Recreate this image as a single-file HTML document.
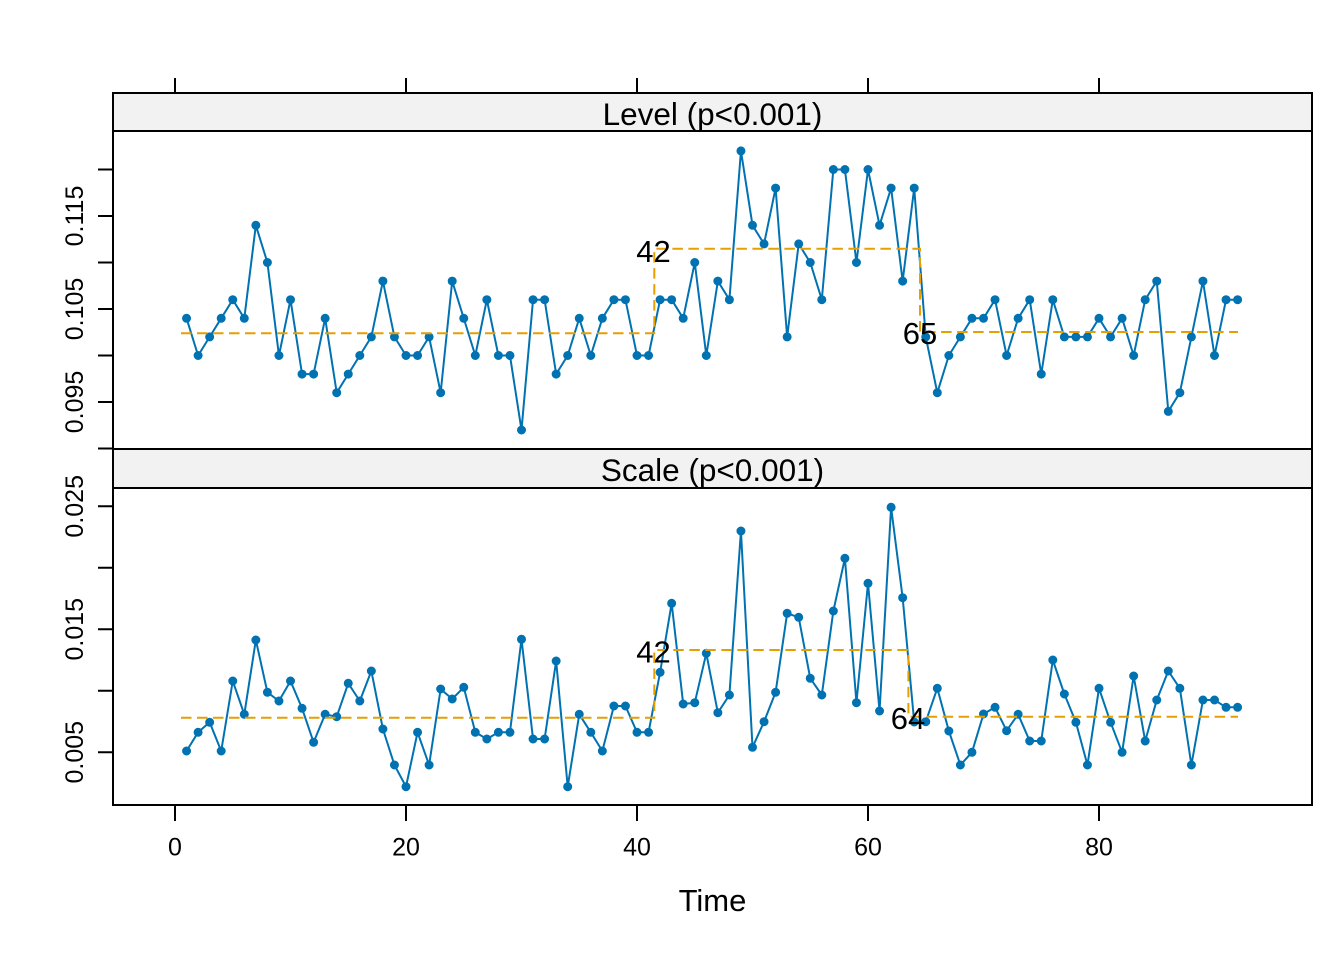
<!DOCTYPE html>
<html><head><meta charset="utf-8"><style>
html,body{margin:0;padding:0;background:#fff;}
svg{display:block;}
text{font-family:"Liberation Sans",Arial,sans-serif;fill:#000;}
</style></head><body>
<svg width="1344" height="960" viewBox="0 0 1344 960" xmlns="http://www.w3.org/2000/svg">
<rect x="0" y="0" width="1344" height="960" fill="#fff"/>
<!-- strips -->
<rect x="113" y="93" width="1199" height="38" fill="#f2f2f2"/>
<rect x="113" y="449" width="1199" height="39" fill="#f2f2f2"/>
<!-- frames -->
<g stroke="#000" stroke-width="2" fill="none">
<rect x="113" y="93" width="1199" height="712"/>
<line x1="113" y1="131" x2="1312" y2="131"/>
<line x1="113" y1="449" x2="1312" y2="449"/>
<line x1="113" y1="488" x2="1312" y2="488"/>
<path d="M175 78V93M406 78V93M637 78V93M868 78V93M1099 78V93"/>
<path d="M175 805V821M406 805V821M637 805V821M868 805V821M1099 805V821"/>
<path d="M98 169.5H113M98 216H113M98 262.5H113M98 309H113M98 355.5H113M98 402H113M98 448.5H113"/>
<path d="M98 506.3H113M98 567.8H113M98 629.2H113M98 690.7H113M98 752.2H113"/>
</g>
<!-- strip text -->
<text x="712.5" y="125" font-size="31.5" text-anchor="middle">Level (p&lt;0.001)</text>
<text x="712.5" y="481" font-size="31.5" text-anchor="middle">Scale (p&lt;0.001)</text>
<!-- y labels -->
<g font-size="25" text-anchor="middle">
<text transform="translate(83,216) rotate(-90)">0.115</text>
<text transform="translate(83,309) rotate(-90)">0.105</text>
<text transform="translate(83,402) rotate(-90)">0.095</text>
<text transform="translate(83,506.3) rotate(-90)">0.025</text>
<text transform="translate(83,629.2) rotate(-90)">0.015</text>
<text transform="translate(83,752.2) rotate(-90)">0.005</text>
<text x="175" y="855.5">0</text>
<text x="406" y="855.5">20</text>
<text x="637" y="855.5">40</text>
<text x="868" y="855.5">60</text>
<text x="1099" y="855.5">80</text>
</g>
<text x="712.5" y="911" font-size="31" text-anchor="middle">Time</text>

<!-- top series -->
<g stroke="#0072B2" fill="none">
<polyline stroke-width="2" stroke-linejoin="round" points="186.55,318.3 198.1,355.5 209.65,336.9 221.2,318.3 232.75,299.7 244.3,318.3 255.85,225.3 267.4,262.5 278.95,355.5 290.5,299.7 302.05,374.1 313.6,374.1 325.15,318.3 336.7,392.7 348.25,374.1 359.8,355.5 371.35,336.9 382.9,281.1 394.45,336.9 406,355.5 417.55,355.5 429.1,336.9 440.65,392.7 452.2,281.1 463.75,318.3 475.3,355.5 486.85,299.7 498.4,355.5 509.95,355.5 521.5,430 533.05,299.7 544.6,299.7 556.15,374.1 567.7,355.5 579.25,318.3 590.8,355.5 602.35,318.3 613.9,299.7 625.45,299.7 637,355.5 648.55,355.5 660.1,299.7 671.65,299.7 683.2,318.3 694.75,262.5 706.3,355.5 717.85,281.1 729.4,299.7 740.95,150.9 752.5,225.3 764.05,243.9 775.6,188.1 787.15,336.9 798.7,243.9 810.25,262.5 821.8,299.7 833.35,169.5 844.9,169.5 856.45,262.5 868,169.5 879.55,225.3 891.1,188.1 902.65,281.1 914.2,188.1 925.75,336.9 937.3,392.7 948.85,355.5 960.4,336.9 971.95,318.3 983.5,318.3 995.05,299.7 1006.6,355.5 1018.15,318.3 1029.7,299.7 1041.25,374.1 1052.8,299.7 1064.35,336.9 1075.9,336.9 1087.45,336.9 1099,318.3 1110.55,336.9 1122.1,318.3 1133.65,355.5 1145.2,299.7 1156.75,281.1 1168.3,411.4 1179.85,392.7 1191.4,336.9 1202.95,281.1 1214.5,355.5 1226.05,299.7 1237.6,299.7"/>
<path stroke-width="9" stroke-linecap="round" d="M186.55 318.3h0M198.1 355.5h0M209.65 336.9h0M221.2 318.3h0M232.75 299.7h0M244.3 318.3h0M255.85 225.3h0M267.4 262.5h0M278.95 355.5h0M290.5 299.7h0M302.05 374.1h0M313.6 374.1h0M325.15 318.3h0M336.7 392.7h0M348.25 374.1h0M359.8 355.5h0M371.35 336.9h0M382.9 281.1h0M394.45 336.9h0M406 355.5h0M417.55 355.5h0M429.1 336.9h0M440.65 392.7h0M452.2 281.1h0M463.75 318.3h0M475.3 355.5h0M486.85 299.7h0M498.4 355.5h0M509.95 355.5h0M521.5 430h0M533.05 299.7h0M544.6 299.7h0M556.15 374.1h0M567.7 355.5h0M579.25 318.3h0M590.8 355.5h0M602.35 318.3h0M613.9 299.7h0M625.45 299.7h0M637 355.5h0M648.55 355.5h0M660.1 299.7h0M671.65 299.7h0M683.2 318.3h0M694.75 262.5h0M706.3 355.5h0M717.85 281.1h0M729.4 299.7h0M740.95 150.9h0M752.5 225.3h0M764.05 243.9h0M775.6 188.1h0M787.15 336.9h0M798.7 243.9h0M810.25 262.5h0M821.8 299.7h0M833.35 169.5h0M844.9 169.5h0M856.45 262.5h0M868 169.5h0M879.55 225.3h0M891.1 188.1h0M902.65 281.1h0M914.2 188.1h0M925.75 336.9h0M937.3 392.7h0M948.85 355.5h0M960.4 336.9h0M971.95 318.3h0M983.5 318.3h0M995.05 299.7h0M1006.6 355.5h0M1018.15 318.3h0M1029.7 299.7h0M1041.25 374.1h0M1052.8 299.7h0M1064.35 336.9h0M1075.9 336.9h0M1087.45 336.9h0M1099 318.3h0M1110.55 336.9h0M1122.1 318.3h0M1133.65 355.5h0M1145.2 299.7h0M1156.75 281.1h0M1168.3 411.4h0M1179.85 392.7h0M1191.4 336.9h0M1202.95 281.1h0M1214.5 355.5h0M1226.05 299.7h0M1237.6 299.7h0"/>
</g>

<!-- bottom series -->
<g stroke="#0072B2" fill="none">
<polyline stroke-width="2" stroke-linejoin="round" points="186.55,751 198.1,732.3 209.65,722.3 221.2,751 232.75,681 244.3,714.3 255.85,640 267.4,692.3 278.95,701 290.5,681 302.05,708.3 313.6,742.3 325.15,714.3 336.7,716.7 348.25,683.3 359.8,701 371.35,671 382.9,729 394.45,765 406,786.7 417.55,732.3 429.1,765 440.65,689 452.2,699 463.75,687.3 475.3,732.3 486.85,739 498.4,732.3 509.95,732.3 521.5,639.3 533.05,739 544.6,739 556.15,661 567.7,786.7 579.25,714.3 590.8,732.3 602.35,751 613.9,706 625.45,706 637,732.3 648.55,732.3 660.1,672.3 671.65,603.3 683.2,704 694.75,702.7 706.3,653.3 717.85,712.7 729.4,695 740.95,531 752.5,747.3 764.05,721.7 775.6,692.3 787.15,613.3 798.7,617.3 810.25,678.3 821.8,695 833.35,611 844.9,558.3 856.45,702.7 868,583.3 879.55,711 891.1,507.3 902.65,597.7 914.2,722 925.75,721.7 937.3,688.3 948.85,731 960.4,765 971.95,752.3 983.5,714 995.05,707.3 1006.6,730.7 1018.15,714.3 1029.7,741 1041.25,741 1052.8,660 1064.35,694 1075.9,722.3 1087.45,765 1099,688.3 1110.55,722.3 1122.1,752.3 1133.65,676 1145.2,741 1156.75,700 1168.3,671 1179.85,688.3 1191.4,765 1202.95,700 1214.5,700 1226.05,707.3 1237.6,707.3"/>
<path stroke-width="9" stroke-linecap="round" d="M186.55 751h0M198.1 732.3h0M209.65 722.3h0M221.2 751h0M232.75 681h0M244.3 714.3h0M255.85 640h0M267.4 692.3h0M278.95 701h0M290.5 681h0M302.05 708.3h0M313.6 742.3h0M325.15 714.3h0M336.7 716.7h0M348.25 683.3h0M359.8 701h0M371.35 671h0M382.9 729h0M394.45 765h0M406 786.7h0M417.55 732.3h0M429.1 765h0M440.65 689h0M452.2 699h0M463.75 687.3h0M475.3 732.3h0M486.85 739h0M498.4 732.3h0M509.95 732.3h0M521.5 639.3h0M533.05 739h0M544.6 739h0M556.15 661h0M567.7 786.7h0M579.25 714.3h0M590.8 732.3h0M602.35 751h0M613.9 706h0M625.45 706h0M637 732.3h0M648.55 732.3h0M660.1 672.3h0M671.65 603.3h0M683.2 704h0M694.75 702.7h0M706.3 653.3h0M717.85 712.7h0M729.4 695h0M740.95 531h0M752.5 747.3h0M764.05 721.7h0M775.6 692.3h0M787.15 613.3h0M798.7 617.3h0M810.25 678.3h0M821.8 695h0M833.35 611h0M844.9 558.3h0M856.45 702.7h0M868 583.3h0M879.55 711h0M891.1 507.3h0M902.65 597.7h0M914.2 722h0M925.75 721.7h0M937.3 688.3h0M948.85 731h0M960.4 765h0M971.95 752.3h0M983.5 714h0M995.05 707.3h0M1006.6 730.7h0M1018.15 714.3h0M1029.7 741h0M1041.25 741h0M1052.8 660h0M1064.35 694h0M1075.9 722.3h0M1087.45 765h0M1099 688.3h0M1110.55 722.3h0M1122.1 752.3h0M1133.65 676h0M1145.2 741h0M1156.75 700h0M1168.3 671h0M1179.85 688.3h0M1191.4 765h0M1202.95 700h0M1214.5 700h0M1226.05 707.3h0M1237.6 707.3h0"/>
</g>

<!-- change-point levels -->
<g stroke="#E69F00" stroke-width="2" fill="none" stroke-dasharray="10.5,5.5">
<path d="M181 333.3H654.3V248.7H920V332H1238"/>
<path d="M181 717.7H654.3V650H908.4V716.7H1238"/>
</g>

<!-- change-point labels -->
<g font-size="31" text-anchor="middle">
<text x="653.5" y="262">42</text>
<text x="920" y="344">65</text>
<text x="653.5" y="662.5">42</text>
<text x="908" y="729">64</text>
</g>
</svg>
</body></html>
